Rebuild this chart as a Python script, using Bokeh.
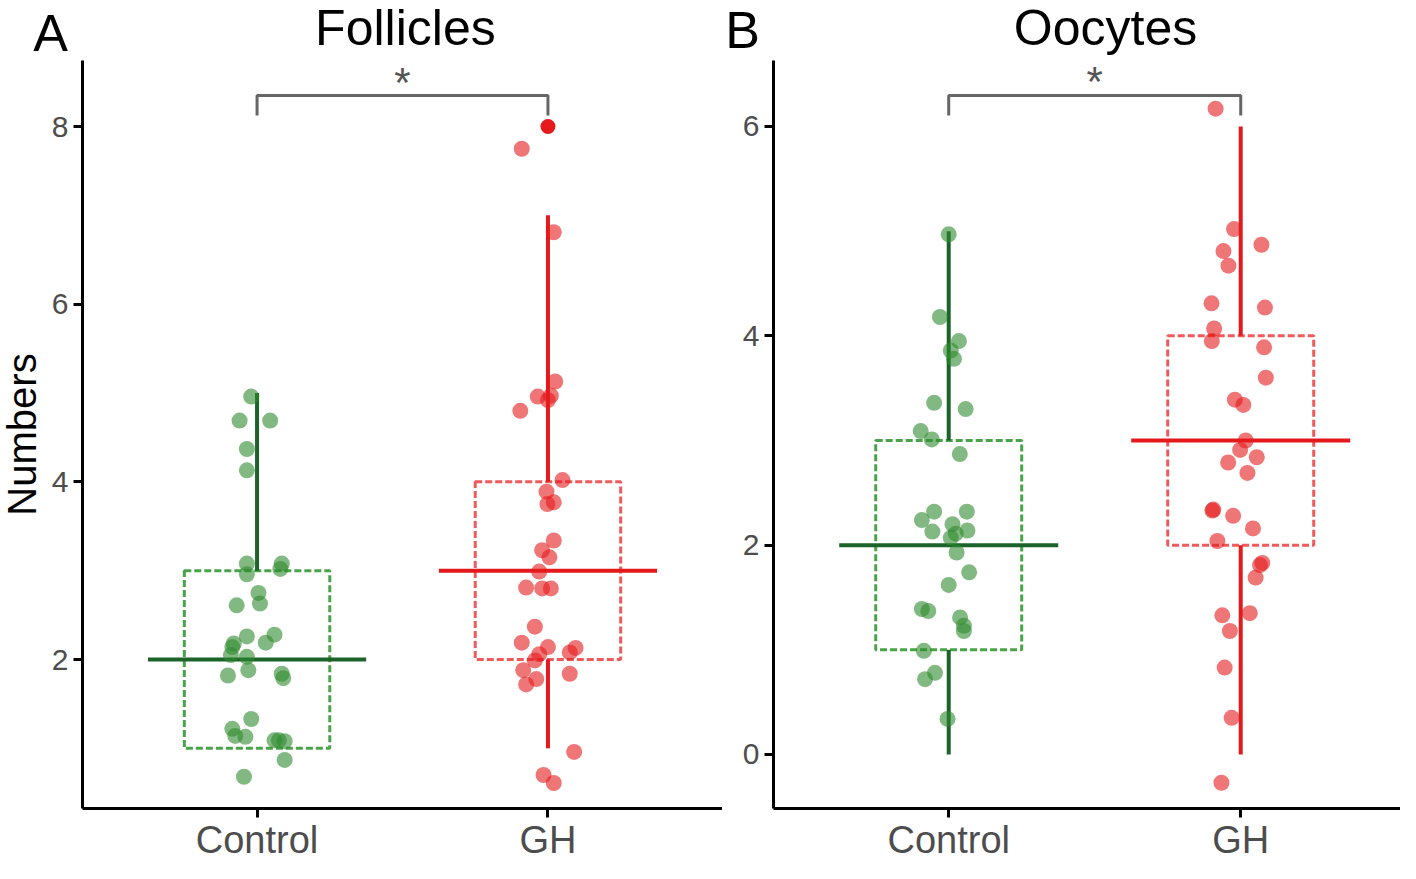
from bokeh.plotting import figure
from bokeh.layouts import row
from bokeh.models import Range1d, FixedTicker
from bokeh.core.properties import value
from bokeh.embed import file_html
from bokeh.resources import INLINE

FONT = "Liberation Sans"

categories = ["Control", "GH"]
cat_x = [1, 2]

# ---------------- Panel A: Follicles ----------------
fol_ctrl_jitter = [-0.02, -0.06, 0.045, -0.035, -0.035, -0.035, -0.035, 0.085, 0.08, 0.005,
                   0.01, -0.07, -0.035, 0.06, 0.03, -0.08, -0.085, -0.09, -0.035, -0.03,
                   -0.10, 0.085, 0.09, -0.02, -0.085, -0.075, -0.04, 0.06, 0.075, 0.095,
                   0.095, -0.045]
fol_ctrl_value = [4.96, 4.69, 4.69, 4.37, 4.13, 3.08, 2.96, 3.08, 3.02, 2.75,
                  2.63, 2.61, 2.26, 2.28, 2.19, 2.18, 2.14, 2.05, 2.03, 1.88,
                  1.82, 1.84, 1.79, 1.33, 1.22, 1.14, 1.13, 1.09, 1.09, 1.08,
                  0.87, 0.68]
fol_gh_jitter = [-0.09, 0.02, 0.025, -0.035, 0.01, 0.0, -0.095, 0.05, -0.005, -0.002,
                 0.02, 0.02, -0.02, 0.005, -0.03, -0.075, -0.02, 0.01, -0.045, -0.09,
                 0.0, -0.03, 0.095, 0.075, -0.045, -0.085, -0.04, -0.075, 0.075, 0.09,
                 -0.015, 0.02]
fol_gh_value = [7.75, 6.81, 5.13, 4.96, 4.97, 4.92, 4.80, 4.02, 3.89, 3.75,
                3.77, 3.34, 3.23, 3.15, 2.99, 2.81, 2.80, 2.80, 2.37, 2.19,
                2.14, 2.06, 2.13, 2.08, 1.99, 1.88, 1.78, 1.72, 1.84, 0.96,
                0.70, 0.61]
fol_q1 = [1, 2]
fol_median = [2, 3]
fol_q3 = [3, 4]
fol_whisker_low = [1, 1]
fol_whisker_high = [5, 7]
fol_outlier_cat = [2]
fol_outlier_value = [8]
fol_yticks = [2, 4, 6, 8]
fol_sig = (8.124, 8.35)

# ---------------- Panel B: Oocytes ----------------
ooc_ctrl_jitter = [0.0, -0.03, 0.035, 0.007, 0.018, -0.05, 0.058, -0.096, -0.058, 0.038,
                   -0.05, 0.062, -0.092, -0.056, 0.013, 0.064, 0.024, 0.007, 0.027, 0.07,
                   0.0, -0.092, -0.07, 0.039, 0.052, 0.052, -0.085, -0.047, -0.081, -0.004]
ooc_ctrl_value = [4.97, 4.18, 3.95, 3.86, 3.78, 3.36, 3.30, 3.09, 3.01, 2.87,
                  2.32, 2.32, 2.24, 2.13, 2.20, 2.14, 2.11, 2.07, 1.93, 1.74,
                  1.62, 1.39, 1.37, 1.31, 1.23, 1.18, 0.99, 0.78, 0.72, 0.34]
ooc_gh_jitter = [-0.086, -0.023, 0.071, -0.059, -0.042, -0.10, 0.083, -0.091, -0.099, 0.08,
                 0.086, -0.02, 0.009, 0.017, -0.002, 0.055, -0.043, 0.023, -0.097, -0.094,
                 -0.026, 0.042, -0.08, 0.074, 0.066, 0.051, -0.063, 0.031, -0.037, -0.055,
                 -0.031, -0.066]
ooc_gh_value = [6.17, 5.02, 4.87, 4.81, 4.67, 4.31, 4.27, 4.07, 3.95, 3.89,
                3.60, 3.39, 3.34, 3.00, 2.91, 2.84, 2.79, 2.69, 2.33, 2.34,
                2.28, 2.16, 2.04, 1.83, 1.81, 1.69, 1.33, 1.35, 1.18, 0.83,
                0.35, -0.27]
ooc_q1 = [1, 2]
ooc_median = [2, 3]
ooc_q3 = [3, 4]
ooc_whisker_low = [0, 0]
ooc_whisker_high = [5, 6]
ooc_outlier_cat = []
ooc_outlier_value = []
ooc_yticks = [0, 2, 4, 6]
ooc_sig = (6.105, 6.296)

# ---------------- styling / layout ----------------
LINE_COL = ["#1b6328", "#e3191c"]
BOX_COL = ["#49a449", "#ef5a5c"]
PT_COL = ["#2e8b2e", "#e41a1c"]
FIG_H = 863


def make_panel(width, xr, yr, axis_box, yticks, ctrl_j, ctrl_v, gh_j, gh_v,
               q1, med, q3, wlo, whi, out_c, out_v, sig, star_y,
               title, title_xy, letter, letter_xy, ylabel):
    x_lo, x_hi, y_lo, y_hi = axis_box
    p = figure(width=width, height=FIG_H, output_backend="svg", toolbar_location=None,
               x_range=Range1d(*xr), y_range=Range1d(*yr), title=None,
               min_border_left=0, min_border_right=0,
               min_border_top=0, min_border_bottom=0)
    p.outline_line_color = None
    p.xgrid.visible = False
    p.ygrid.visible = False
    p.background_fill_color = "white"
    p.border_fill_color = "white"

    for i, c in enumerate(cat_x):
        p.quad(left=[c - 0.25], right=[c + 0.25], bottom=[q1[i]], top=[q3[i]],
               fill_alpha=0, line_color=BOX_COL[i], line_width=3, line_dash="7 3")
        p.segment(x0=[c, c], y0=[q3[i], wlo[i]], x1=[c, c], y1=[whi[i], q1[i]],
                  line_color=LINE_COL[i], line_width=4)
        p.segment(x0=[c - 0.375], y0=[med[i]], x1=[c + 0.375], y1=[med[i]],
                  line_color=LINE_COL[i], line_width=4)

    p.scatter([cat_x[0] + j for j in ctrl_j], ctrl_v, size=16, fill_color=PT_COL[0],
              fill_alpha=0.6, line_color=None)
    p.scatter([cat_x[1] + j for j in gh_j], gh_v, size=16, fill_color=PT_COL[1],
              fill_alpha=0.6, line_color=None)
    if out_c:
        p.scatter(out_c, out_v, size=15, fill_color=PT_COL[1], fill_alpha=1,
                  line_color=None)

    # significance bracket and star
    p.line([cat_x[0], cat_x[0], cat_x[1], cat_x[1]], [sig[0], sig[1], sig[1], sig[0]],
           line_color="#666666", line_width=3)
    p.text(x=[(cat_x[0] + cat_x[1]) / 2], y=[star_y], text=["*"],
           text_align="center", text_baseline="alphabetic",
           text_font=value(FONT), text_font_size="42px", text_color="#555555")

    # titles
    p.text(x=[title_xy[0]], y=[title_xy[1]], text=[title], text_align="center",
           text_baseline="alphabetic", text_font=value(FONT),
           text_font_size="50px", text_color="black")
    p.text(x=[letter_xy[0]], y=[letter_xy[1]], text=[letter], text_align="center",
           text_baseline="alphabetic", text_font=value(FONT),
           text_font_size="52px", text_color="black")

    # axes placed at fixed data locations inside the full-size frame
    p.xaxis.ticker = FixedTicker(ticks=cat_x)
    p.xaxis.major_label_overrides = {c: n for c, n in zip(cat_x, categories)}
    p.xaxis.fixed_location = y_lo
    p.xaxis.bounds = (x_lo, x_hi)
    p.yaxis.ticker = FixedTicker(ticks=yticks)
    p.yaxis.fixed_location = x_lo
    p.yaxis.bounds = (y_lo, y_hi)
    for ax in p.axis:
        ax.axis_line_width = 3
        ax.axis_line_color = "black"
        ax.major_tick_line_width = 3
        ax.major_tick_line_color = "black"
        ax.major_tick_out = 9
        ax.major_tick_in = 0
        ax.minor_tick_line_color = None
        ax.major_label_text_color = "#4d4d4d"
        ax.major_label_text_font = FONT
    p.xaxis.major_label_text_font_size = "38px"
    p.xaxis.major_label_standoff = 1
    p.yaxis.major_label_text_font_size = "30px"
    p.yaxis.major_label_standoff = 5
    if ylabel:
        p.yaxis.axis_label = ylabel
        p.yaxis.axis_label_text_font = FONT
        p.yaxis.axis_label_text_font_size = "40px"
        p.yaxis.axis_label_text_font_style = "normal"
        p.yaxis.axis_label_text_color = "black"
        p.yaxis.axis_label_standoff = 5
    return p


pA = make_panel(722, (0.1181, 2.600), (-0.2965, 9.419), (0.4, 2.6, 0.3226, 8.743),
                fol_yticks, fol_ctrl_jitter, fol_ctrl_value,
                fol_gh_jitter, fol_gh_value, fol_q1, fol_median, fol_q3,
                fol_whisker_low, fol_whisker_high, fol_outlier_cat, fol_outlier_value,
                fol_sig, 8.501, "Follicles", (1.510, 9.106), "A", (0.290, 9.058),
                "Numbers")
pB = make_panel(678, (0.2253, 2.5472), (-1.0414, 7.2036), (0.4, 2.6, -0.516, 6.630),
                ooc_yticks, ooc_ctrl_jitter, ooc_ctrl_value,
                ooc_gh_jitter, ooc_gh_value, ooc_q1, ooc_median, ooc_q3,
                ooc_whisker_low, ooc_whisker_high, ooc_outlier_cat, ooc_outlier_value,
                ooc_sig, 6.425, "Oocytes", (1.537, 6.939), "B", (0.294, 6.917),
                None)

layout = row(pA, pB)
open("out.html", "w").write(file_html(layout, INLINE))
